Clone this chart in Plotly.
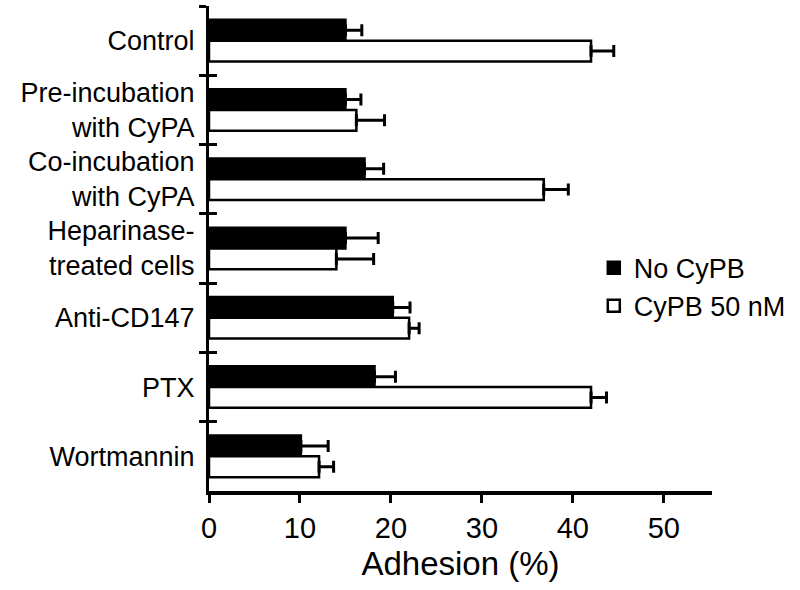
import plotly.graph_objects as go

categories = ["Control", "Pre-incubation<br>with CyPA", "Co-incubation<br>with CyPA",
              "Heparinase-<br>treated cells", "Anti-CD147", "PTX", "Wortmannin"]
no_cypb = [15.0, 15.0, 17.1, 15.0, 20.2, 18.2, 10.1]
no_cypb_err = [1.8, 1.7, 2.1, 3.6, 1.9, 2.3, 3.0]
cypb_50 = [42.0, 16.2, 36.8, 14.0, 22.0, 42.0, 12.1]
cypb_50_err = [2.5, 3.1, 2.7, 4.1, 1.1, 1.7, 1.6]
x_ticks = [0, 10, 20, 30, 40, 50]

FONT = "Liberation Sans, Arial, sans-serif"

fig = go.Figure()
fig.add_trace(go.Bar(
    name="No CyPB", y=categories, x=no_cypb, orientation="h",
    marker=dict(color="black", line=dict(color="black", width=2.5)),
    error_x=dict(type="data", symmetric=False, array=no_cypb_err,
                 arrayminus=[0] * len(no_cypb_err), color="black",
                 thickness=3, width=6),
))
fig.add_trace(go.Bar(
    name="CyPB 50 nM", y=categories, x=cypb_50, orientation="h",
    marker=dict(color="white", line=dict(color="black", width=2.5)),
    error_x=dict(type="data", symmetric=False, array=cypb_50_err,
                 arrayminus=[0] * len(cypb_50_err), color="black",
                 thickness=3, width=6),
))
# invisible helper trace so that the overlaid axis (inner tick halves) is drawn
fig.add_trace(go.Scatter(
    y=categories, x=[0] * len(categories), yaxis="y2", mode="markers",
    marker=dict(opacity=0), showlegend=False, hoverinfo="skip",
))

fig.update_layout(
    width=800, height=590,
    margin=dict(l=209, r=88, t=6, b=99),
    paper_bgcolor="white", plot_bgcolor="white",
    font=dict(family=FONT, color="black"),
    barmode="group", bargap=0.4, bargroupgap=0,
    legend=dict(x=0.765, y=0.51, xanchor="left", yanchor="top",
                font=dict(size=27, family=FONT), bgcolor="rgba(0,0,0,0)",
                itemwidth=30, tracegroupgap=0),
    xaxis=dict(
        range=[0, 55.3], tickvals=x_ticks, ticktext=[str(v) for v in x_ticks],
        showgrid=False, zeroline=False, showline=True, linecolor="black",
        linewidth=3.5, ticks="outside", ticklen=8, tickwidth=3, tickcolor="black",
        tickfont=dict(size=29, family=FONT),
        title=dict(text="Adhesion (%)", font=dict(size=33, family=FONT), standoff=10),
    ),
    yaxis=dict(
        type="category", categoryorder="array", categoryarray=categories,
        range=[6.5, -0.5], tickson="boundaries",
        showgrid=False, zeroline=False, showline=True, linecolor="black",
        linewidth=3, ticks="outside", ticklen=7, tickwidth=3, tickcolor="black",
        tickfont=dict(size=27, family=FONT), ticklabelstandoff=6,
    ),
    yaxis2=dict(
        type="category", categoryorder="array", categoryarray=categories,
        overlaying="y", side="left", range=[6.5, -0.5], tickson="boundaries",
        showgrid=False, zeroline=False, showline=False, showticklabels=False,
        ticks="inside", ticklen=8, tickwidth=3, tickcolor="black",
    ),
)

fig.write_html("out.html", config={"displayModeBar": False},
               post_script="document.body.style.margin='0';")
